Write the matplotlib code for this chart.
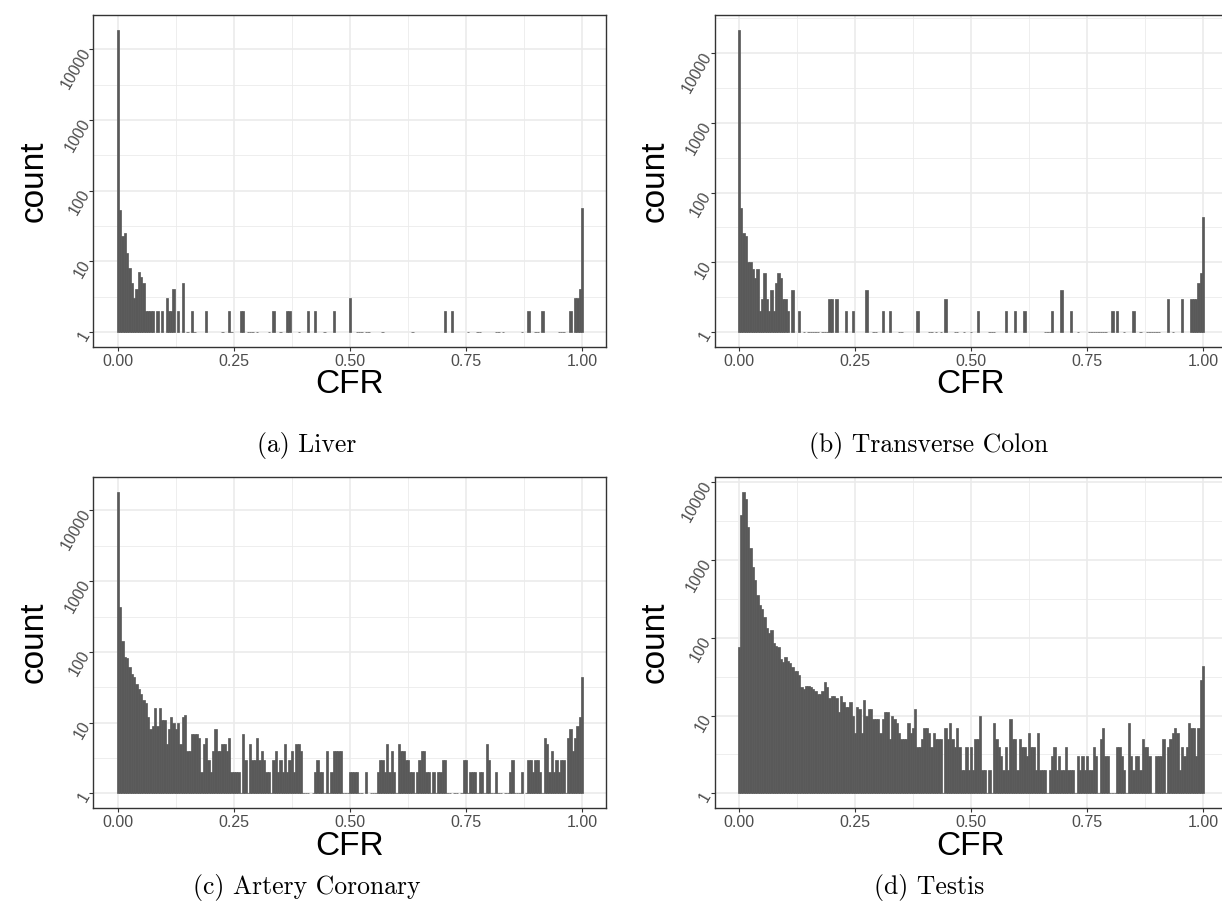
import numpy as np
import matplotlib.pyplot as plt
from matplotlib.ticker import FixedLocator, NullFormatter

plt.rcParams['font.family'] = ['Liberation Sans', 'DejaVu Sans']

# histogram bins: width 0.005, centred on 0, 0.005, ..., 1.0
bin_width = 0.005
cfr = np.arange(201) * bin_width

# counts per bin
liver = [
    18800, 53, 23, 25, 13, 8, 5, 3, 4, 7,
    6, 5, 2, 2, 2, 2, 0, 2, 0, 2,
    0, 3, 2, 2, 4, 0, 2, 0, 5, 0,
    1, 0, 2, 1, 0, 0, 0, 0, 2, 0,
    0, 0, 0, 0, 0, 1, 0, 0, 2, 1,
    0, 0, 0, 2, 2, 0, 1, 1, 1, 0,
    1, 0, 0, 0, 0, 1, 0, 2, 0, 0,
    1, 0, 0, 2, 2, 0, 0, 0, 1, 0,
    0, 0, 2, 0, 0, 2, 0, 0, 0, 1,
    0, 0, 0, 2, 0, 0, 0, 0, 0, 0,
    3, 0, 0, 1, 1, 1, 0, 1, 1, 0,
    0, 0, 0, 0, 1, 0, 0, 0, 0, 0,
    0, 0, 0, 0, 0, 0, 0, 1, 0, 0,
    0, 0, 0, 0, 0, 0, 0, 0, 0, 0,
    0, 2, 0, 0, 2, 0, 0, 0, 0, 0,
    0, 1, 0, 0, 0, 1, 1, 0, 0, 0,
    0, 0, 0, 1, 1, 0, 1, 0, 0, 0,
    0, 0, 0, 0, 1, 0, 0, 2, 0, 0,
    1, 1, 0, 2, 0, 0, 0, 0, 0, 0,
    1, 1, 1, 0, 0, 2, 0, 3, 3, 4,
    56]

colon = [
    21500, 60, 26, 24, 10, 10, 8, 6, 8, 2,
    3, 7, 3, 2, 4, 2, 5, 7, 6, 3,
    3, 2, 0, 4, 0, 0, 2, 0, 1, 0,
    1, 1, 1, 1, 1, 0, 1, 1, 1, 3,
    3, 0, 3, 0, 0, 0, 2, 0, 0, 2,
    0, 0, 0, 0, 0, 4, 0, 0, 1, 1,
    0, 0, 2, 0, 0, 2, 0, 0, 0, 1,
    1, 0, 0, 0, 0, 0, 0, 2, 0, 0,
    0, 0, 1, 1, 0, 1, 0, 1, 0, 3,
    0, 0, 0, 1, 1, 0, 0, 1, 0, 0,
    1, 0, 0, 2, 0, 0, 0, 0, 1, 1,
    1, 0, 0, 0, 0, 2, 0, 0, 0, 2,
    0, 0, 0, 2, 0, 0, 0, 0, 0, 0,
    0, 0, 1, 1, 1, 2, 0, 0, 0, 4,
    0, 0, 0, 2, 0, 0, 1, 0, 0, 0,
    0, 1, 1, 1, 1, 1, 1, 1, 1, 0,
    0, 2, 0, 2, 0, 0, 1, 0, 0, 0,
    2, 0, 0, 1, 0, 0, 1, 1, 1, 1,
    1, 1, 0, 0, 0, 3, 0, 1, 0, 0,
    0, 3, 0, 0, 0, 3, 3, 3, 5, 7,
    45]

artery = [
    18400, 429, 142, 84, 81, 61, 49, 44, 35, 30,
    25, 21, 19, 12, 8, 9, 16, 9, 16, 11,
    11, 5, 8, 12, 10, 8, 10, 5, 12, 13,
    4, 4, 7, 7, 7, 6, 2, 5, 6, 3,
    2, 4, 8, 4, 4, 5, 5, 4, 6, 2,
    2, 2, 2, 1, 7, 3, 1, 5, 3, 3,
    6, 3, 4, 3, 2, 2, 1, 3, 4, 2,
    3, 2, 5, 2, 3, 4, 2, 5, 5, 4,
    1, 1, 1, 0, 1, 2, 3, 2, 2, 1,
    4, 1, 2, 4, 4, 4, 4, 1, 1, 1,
    2, 2, 2, 2, 1, 1, 0, 2, 0, 1,
    1, 1, 2, 3, 3, 2, 5, 2, 4, 2,
    1, 5, 4, 4, 3, 3, 2, 2, 1, 2,
    3, 4, 4, 2, 2, 1, 2, 1, 2, 2,
    3, 3, 1, 1, 0, 1, 1, 0, 1, 3,
    3, 1, 2, 2, 2, 1, 2, 2, 1, 5,
    3, 1, 1, 2, 1, 1, 0, 1, 1, 2,
    3, 1, 1, 1, 2, 0, 1, 3, 3, 2,
    3, 3, 2, 1, 6, 5, 2, 4, 2, 3,
    2, 3, 3, 1, 6, 8, 4, 6, 9, 12,
    44]

testis = [
    76, 3800, 7600, 6200, 2660, 1415, 813, 552, 351, 264,
    232, 185, 134, 117, 126, 86, 78, 76, 53, 49,
    56, 50, 47, 42, 38, 37, 33, 23, 22, 24,
    24, 23, 22, 21, 19, 19, 21, 27, 23, 17,
    18, 18, 17, 11, 18, 15, 13, 13, 15, 10,
    6, 13, 12, 6, 16, 10, 12, 12, 9, 9,
    9, 6, 9, 11, 11, 5, 10, 9, 8, 6,
    5, 5, 5, 8, 6, 7, 12, 4, 4, 5,
    7, 7, 6, 4, 6, 5, 5, 5, 1, 7,
    5, 8, 5, 4, 7, 4, 2, 2, 4, 2,
    4, 2, 5, 5, 10, 2, 2, 1, 2, 1,
    8, 5, 4, 3, 2, 4, 2, 9, 5, 5,
    2, 5, 4, 4, 3, 6, 4, 4, 2, 6,
    2, 2, 2, 1, 2, 3, 4, 2, 3, 2,
    2, 4, 2, 2, 2, 1, 3, 2, 3, 2,
    3, 2, 2, 4, 3, 1, 5, 7, 3, 3,
    1, 1, 1, 4, 4, 3, 2, 1, 8, 3,
    2, 3, 3, 2, 5, 4, 4, 3, 1, 1,
    3, 3, 3, 5, 1, 4, 5, 6, 7, 6,
    2, 4, 3, 4, 8, 7, 7, 3, 7, 29,
    43]

panels = [liver, colon, artery, testis]
captions = ['(a) Liver', '(b) Transverse Colon', '(c) Artery Coronary', '(d) Testis']

x_breaks = [0, 0.25, 0.5, 0.75, 1.0]
x_labels = ['0.00', '0.25', '0.50', '0.75', '1.00']
x_minor = [0.125, 0.375, 0.625, 0.875]
y_breaks = [1, 10, 100, 1000, 10000]
y_labels = ['1', '10', '100', '1000', '10000']

fig = plt.figure(figsize=(12.22, 9.23), dpi=100)

# axes boxes (left, bottom, width, height) in figure fractions
boxes = [[0.0765, 0.6241, 0.4198, 0.3597],
         [0.5847, 0.6241, 0.4198, 0.3597],
         [0.0765, 0.1242, 0.4198, 0.3594],
         [0.5847, 0.1242, 0.4198, 0.3594]]
caption_pos = [(0.2513, 0.5168), (0.7602, 0.5168),
               (0.2513, 0.0390), (0.7602, 0.0390)]

for data, box, cap, cpos in zip(panels, boxes, captions, caption_pos):
    ax = fig.add_axes(box)
    counts = np.array(data, dtype=float)
    keep = counts > 0
    # bars start at 1 on the log axis, so a count of 1 is a flat dash
    ax.bar(cfr[keep], counts[keep] - 1, bottom=1, width=bin_width,
           color='#595959', edgecolor='#595959', linewidth=0.5, zorder=2)
    ax.set_yscale('log')

    # ggplot-like limits: 5% expansion on both axes (log space for y)
    lo, hi = -bin_width / 2, 1 + bin_width / 2
    pad = 0.05 * (hi - lo)
    ax.set_xlim(lo - pad, hi + pad)
    top = np.log10(counts.max())
    ax.set_ylim(10 ** (-0.05 * top), 10 ** (1.05 * top))

    ax.xaxis.set_major_locator(FixedLocator(x_breaks))
    ax.set_xticklabels(x_labels)
    ax.xaxis.set_minor_locator(FixedLocator(x_minor))
    ax.yaxis.set_major_locator(FixedLocator(y_breaks))
    ax.set_yticklabels(y_labels, rotation=60, ha='right', va='center',
                       rotation_mode='anchor')
    ax.yaxis.set_minor_locator(FixedLocator(10 ** (np.arange(-1, 5) + 0.5)))
    ax.yaxis.set_minor_formatter(NullFormatter())

    ax.set_axisbelow(True)
    ax.grid(which='major', color='#EBEBEB', linewidth=1.2)
    ax.grid(which='minor', color='#EBEBEB', linewidth=0.6)
    for s in ax.spines.values():
        s.set_color('#333333')
        s.set_linewidth(1.0)
    ax.tick_params(which='major', length=2.75, width=0.8, color='#333333',
                   labelcolor='#4D4D4D', labelsize=11.5, pad=2.2)
    ax.tick_params(which='minor', length=0)

    ax.set_xlabel('CFR', fontsize=24, va='center')
    ax.xaxis.set_label_coords(0.5, -0.1145)
    ax.set_ylabel('count', fontsize=24, va='center')
    ax.yaxis.set_label_coords(-0.116, 0.5)

    fig.text(cpos[0], cpos[1], cap, family='cmr10', fontsize=18.5,
             ha='center', va='center')

fig.savefig('out.png', dpi=100)
